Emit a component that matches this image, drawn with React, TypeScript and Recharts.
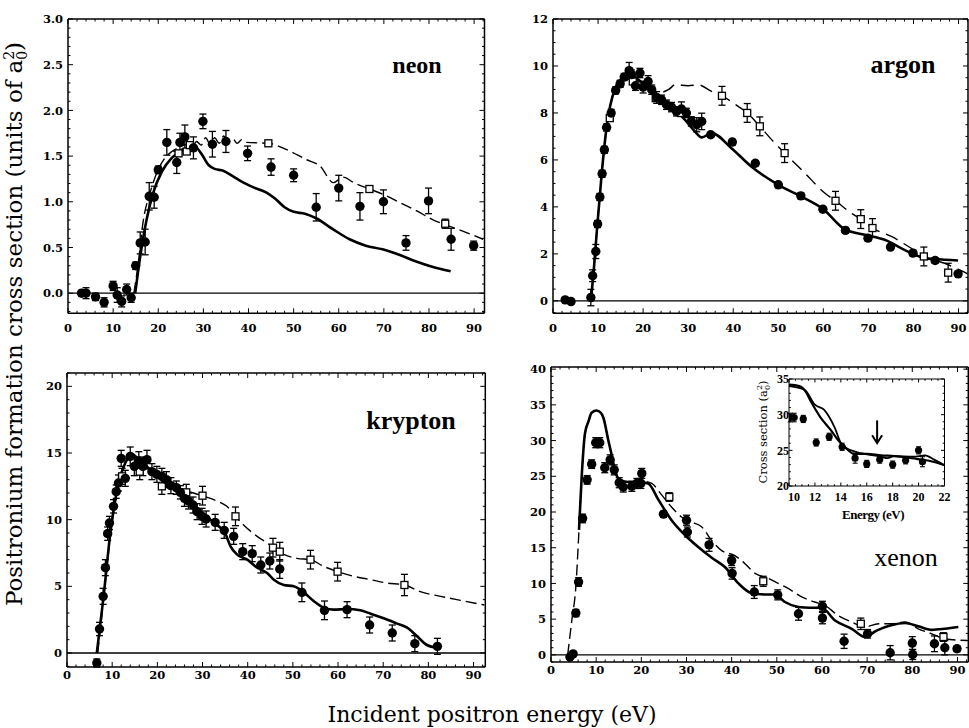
import React from 'react';
import { ComposedChart, Line, Scatter, XAxis, YAxis, ErrorBar, ReferenceLine } from 'recharts';

// ---------- DATA ----------
// [energy, value, error]
const neonCircles = [[3,0,0.03],[4,0,0.06],[6.1,-0.04,0.04],[8,-0.1,0.05],[10,0.08,0.05],[10.9,-0.02,0.08],[11.9,-0.09,0.06],[13,0.04,0.06],[14,-0.05,0.05],[15,0.3,0.04],[16,0.55,0.12],[17.1,0.56,0.14],[18,1.06,0.15],[19.1,1.05,0.12],[20,1.35,0.04],[21.9,1.65,0.14],[24.1,1.43,0.12],[24.8,1.65,0.1],[25.9,1.71,0.13],[27.8,1.59,0.12],[29.9,1.88,0.08],[32,1.63,0.14],[35,1.66,0.12],[39.8,1.53,0.08],[45,1.38,0.09],[50,1.29,0.07],[55,0.94,0.15],[60,1.15,0.14],[64.7,0.95,0.15],[69.9,1.0,0.13],[74.9,0.55,0.08],[79.9,1.01,0.14],[84.9,0.59,0.12],[89.9,0.52,0.05]];
const neonSquares = [[24.5,1.53,0.03],[26.3,1.55,0.03],[27,1.62,0.03],[44.4,1.64,0.03],[66.8,1.14,0.03],[83.6,0.76,0.05]];
const neonSolid = [[14.9,0],[16,0.4],[17.4,0.8],[18.9,1.1],[20.8,1.33],[23,1.48],[25.6,1.57],[28.2,1.6],[29.5,1.53],[31.2,1.4],[32.5,1.36],[34.4,1.34],[36.5,1.28],[38.5,1.22],[41,1.16],[44,1.1],[46,1.03],[48,0.94],[50,0.89],[52.5,0.87],[55,0.82],[58.7,0.7],[62.4,0.59],[66,0.52],[69.7,0.48],[73.4,0.42],[77,0.35],[80.7,0.29],[84.8,0.24]];
const neonDashed = [[14.6,0],[15.5,0.3],[16.7,0.8],[18.2,1.1],[19.7,1.32],[21.5,1.48],[23,1.55],[24.8,1.6],[26.5,1.63],[27.5,1.6],[28.5,1.66],[29.5,1.62],[30.5,1.7],[31.5,1.63],[32.5,1.7],[33.5,1.64],[34.5,1.72],[35.5,1.66],[36.5,1.69],[37.5,1.64],[38.5,1.68],[39.6,1.65],[44.4,1.64],[48.5,1.57],[52.9,1.46],[55.9,1.39],[58.8,1.21],[61,1.27],[63.3,1.21],[66.8,1.14],[69.9,1.08],[73.6,0.99],[77.3,0.9],[81,0.8],[83.6,0.75],[86.9,0.69],[92,0.59]];

const argonCircles = [[2.7,0.04,0.05],[4,-0.03,0.05],[8.4,0.14,0.35],[8.8,1.07,0.25],[9.5,2.1,0.3],[9.9,3.27,0.15],[10.4,4.42,0.15],[10.9,5.41,0.15],[11.4,6.43,0.15],[11.9,7.38,0.15],[12.9,8.0,0.15],[13.9,8.96,0.15],[14.9,9.24,0.15],[15.8,9.53,0.15],[16.9,9.8,0.35],[17.4,9.63,0.2],[18.3,9.16,0.2],[19.3,9.7,0.2],[20,9.1,0.25],[21.1,9.34,0.25],[21.9,8.99,0.2],[23,8.66,0.25],[24.1,8.56,0.2],[25.2,8.35,0.2],[26.3,8.25,0.2],[27.4,8.07,0.2],[28.5,8.17,0.3],[29.6,8.0,0.2],[30.7,7.64,0.2],[31.9,7.5,0.3],[33,7.64,0.35],[35,7.07,0.1],[39.8,6.76,0.12],[44.9,5.86,0.1],[50,4.94,0.1],[55,4.47,0.12],[59.9,3.9,0.1],[64.9,3.0,0.12],[69.9,2.67,0.12],[74.9,2.29,0.1],[79.9,2.03,0.12],[84.8,1.72,0.12],[89.9,1.15,0.08]];
const argonSquares = [[12.6,7.78,0.1],[17.7,9.34,0.1],[22.8,8.63,0.1],[28.4,8.0,0.15],[37.5,8.73,0.4],[43.1,8.0,0.4],[45.9,7.43,0.4],[51.4,6.29,0.4],[62.7,4.26,0.4],[68.3,3.48,0.4],[70.9,3.1,0.4],[82.3,1.89,0.4],[87.7,1.2,0.4]];
const argonSolid = [[8.4,0],[9.0,1.2],[9.7,2.9],[10.8,5.4],[11.9,7.4],[13.7,9.0],[16,9.6],[17.1,9.84],[18.2,9.55],[20.4,9.2],[23.4,8.7],[26.3,8.28],[29.3,7.71],[31.5,7.21],[33,6.96],[35.2,7.14],[39.6,6.5],[44,5.72],[50,4.94],[55.1,4.44],[60,3.9],[64.7,3.05],[69.2,2.81],[73.6,2.6],[78,2.17],[82.5,1.82],[84.7,1.78],[89.9,1.72]];
const argonDashed = [[8.3,0],[9.0,1.3],[9.7,2.9],[10.8,5.4],[11.9,7.4],[13.7,9.0],[16,9.6],[17.1,9.8],[18.5,9.5],[19.7,9.2],[21.5,9.0],[23.4,8.85],[25.6,8.99],[27.4,9.23],[28.6,9.18],[30,9.16],[32.2,9.2],[35.2,8.92],[37.5,8.73],[41.1,8.28],[43.1,8.0],[45.9,7.43],[49.2,6.72],[51.4,6.29],[55.9,5.44],[60.3,4.59],[62.7,4.26],[66.2,3.73],[68.3,3.48],[70.9,3.1],[75.1,2.74],[79.5,2.24],[82.3,1.89],[86.9,1.6],[92,1.15]];

const kryptonCircles = [[6.6,-0.75,0.3],[7.2,1.8,0.5],[8.0,4.25,0.6],[8.5,6.4,0.6],[9.0,8.95,0.5],[9.4,9.75,0.5],[10.3,11.0,0.5],[10.9,12.1,0.5],[11.4,12.75,0.6],[12,14.6,0.6],[12.9,13.1,0.6],[14.0,14.75,0.7],[14.9,14.0,0.7],[15.9,14.4,0.7],[16.8,14.0,0.7],[17.7,14.5,0.7],[18.8,13.6,0.6],[19.9,13.4,0.6],[21,13.25,0.6],[22,13.0,0.6],[23,12.55,0.6],[24.2,12.4,0.5],[25.1,12.05,0.5],[26,11.6,0.6],[26.9,11.4,0.6],[27.9,11.1,0.6],[28.8,10.6,0.6],[29.9,10.25,0.6],[30.8,10.05,0.6],[32.8,9.8,0.6],[34.8,9.2,0.6],[36.9,8.75,0.6],[38.9,7.6,0.6],[41,7.45,0.6],[42.9,6.6,0.6],[44.9,6.9,0.6],[47.1,6.3,0.7],[52,4.55,0.7],[57,3.2,0.7],[62,3.25,0.6],[67,2.1,0.6],[72,1.5,0.6],[77,0.7,0.6],[82,0.5,0.6]];
const kryptonSquares = [[12.2,13.25,0.6],[16.1,13.6,0.6],[21.0,12.5,0.6],[26.4,12.05,0.6],[30,11.8,0.7],[37.3,10.25,0.7],[45.6,7.9,0.7],[47.1,7.6,0.7],[53.9,7.0,0.7],[59.9,6.1,0.7],[74.7,5.1,0.8]];
const kryptonSolid = [[6.6,0],[8.1,4.25],[9.6,9.0],[11.1,12.25],[12.9,14.25],[14.4,14.9],[16.2,14.4],[18.5,13.75],[21.4,13.0],[24.4,12.25],[27.3,11.4],[30.3,10.4],[33.2,9.6],[35,9.0],[36.2,8.0],[37.6,7.4],[39.9,7.0],[42.1,6.4],[44.3,6.0],[45.8,5.5],[48,5.1],[50.2,5.0],[52.4,4.55],[54.6,3.9],[56.8,3.4],[59,3.25],[62,3.3],[64.9,3.2],[67.2,2.95],[70.1,2.6],[73.1,2.2],[75.3,1.9],[77.5,1.25],[79.7,0.6],[81.9,0.4]];
const kryptonDashed = [[6.8,0],[8.1,4.0],[9.6,8.8],[11.1,12.2],[12.9,14.3],[14.8,14.75],[17.7,14.0],[21.4,12.75],[25.1,12.25],[28,12.0],[30.3,11.75],[33.2,11.4],[35.4,11.0],[37.3,10.25],[39.1,9.6],[42.1,8.75],[44.3,8.25],[45.6,7.9],[48,7.4],[50.9,7.1],[53.9,7.0],[56.8,6.5],[59.9,6.1],[63.5,5.75],[67.2,5.5],[70.8,5.25],[74.7,5.1],[78.2,4.6],[82.7,4.25],[87.1,3.95],[92.4,3.6]];

const xenonCircles = [[4.2,-0.3,0.3],[4.9,0.14,0.3],[5.5,5.85,0.5],[6.1,10.2,0.6],[7.0,19.1,0.6],[8.0,24.5,0.6],[9.0,26.7,0.6],[9.9,29.7,0.7],[10.8,29.7,0.7],[11.9,26.2,0.7],[13.1,27.3,0.7],[14.0,25.9,0.7],[15.1,24.1,0.7],[16,23.5,0.7],[17.9,23.6,0.7],[19,24.0,0.7],[19.9,24.0,0.7],[20.1,25.4,0.7],[24.9,19.7,0.4],[30,18.85,0.7],[30.2,17.2,0.7],[35,15.4,0.9],[40,13.2,0.7],[40.1,11.4,0.8],[45,8.8,0.9],[50.2,8.4,0.7],[54.8,5.75,0.9],[60.1,6.8,0.7],[60.1,5.15,0.8],[64.9,1.9,1.0],[70.1,2.95,0.6],[75.1,0.3,1.0],[80,1.65,0.9],[80.1,0.05,0.7],[84.9,1.55,1.1],[87.2,1.0,1.0],[89.9,0.85,0.4]];
const xenonSquares = [[26.2,22.1,0.6],[47,10.3,0.7],[68.6,4.35,0.8],[86.9,2.5,0.6]];
const xenonSolid = [[6.2,17.5],[6.8,25],[7.5,30.9],[8.3,32.7],[9.0,33.9],[10.1,34.2],[11.0,33.9],[11.6,33.2],[12.7,30],[13.5,27.8],[14.2,25.7],[15.3,24.5],[17.1,24.2],[19.3,24.2],[21.5,24.0],[23.8,21.7],[26.7,18.85],[29.7,16.75],[32.6,15.1],[35.6,13.6],[38.5,12.3],[41.5,10.0],[44.4,8.65],[47.4,8.45],[49.6,8.45],[51.8,7.4],[54.8,6.7],[57.3,6.6],[59.9,6.6],[62.9,4.8],[66.6,3.65],[69.5,2.5],[72.1,3.4],[75.1,4.1],[78.4,4.45],[81.3,4.0],[84.3,3.5],[87.2,3.65],[90.2,3.9]];
const xenonDashed = [[3.7,0],[4.6,4.8],[5.5,9.5],[6.2,17.5],[6.8,25],[7.5,30.9],[8.3,32.7],[9.0,33.9],[10.1,34.2],[11.0,33.9],[11.6,33.2],[12.7,30],[13.5,27.8],[14.2,25.7],[15.3,24.5],[17.1,24.2],[19.3,24.2],[20.5,24.3],[22.3,24.0],[24.5,22.4],[26.7,20.7],[28.9,19.3],[31.1,18.6],[33.4,17.9],[35.6,16.0],[37.8,14.6],[40.7,13.9],[42.9,12.8],[45.2,11.4],[48.1,10.7],[50.3,10.0],[52.5,9.3],[55.5,8.1],[58.4,7.4],[60.7,6.9],[63.6,5.5],[66.6,4.6],[69.5,3.9],[72.5,4.35],[75.4,4.35],[78.4,4.6],[81.3,3.65],[84.3,2.95],[87.2,2.25],[92.2,2.0]];

const insetCircles = [[10.1,29.6,0.6],[10.4,29.6,0.6],[11.1,29.4,0.5],[12.1,26.1,0.5],[13.1,26.9,0.5],[14.1,25.5,0.5],[15.1,23.9,0.7],[16.0,23.1,0.5],[17.0,23.7,0.5],[18.0,23.0,0.5],[19.0,23.6,0.5],[20.0,25.0,0.5],[20.3,23.4,0.7]];
const insetLineA = [[10,34.2],[10.8,34.0],[11.3,33.2],[11.7,31.8],[12.4,29.7],[13.2,27.9],[13.9,26.2],[14.4,25.3],[15,24.5],[16,24.5],[17.1,24.3],[18.1,24.2],[19.1,24.0],[20.2,23.7],[20.9,23.5],[22,22.9]];
const insetLineB = [[10,34.0],[11.2,33.5],[12,31.4],[12.7,30.7],[13.5,28.3],[14.1,25.7],[14.8,25.0],[15.3,24.7],[17.1,24.1],[17.6,23.9],[18.1,24.2],[19.6,24.1],[20.5,24.3],[21.2,23.7],[22,22.9]];
const insetArrow = [16.8, 29.2, 26.0]; // energy, tail, tip

// tick labels
const energyLabels = [0, 10, 20, 30, 40, 50, 60, 70, 80, 90];
const neonYLabels = [0, 0.5, 1.0, 1.5, 2.0, 2.5, 3.0];
const argonYLabels = [0, 2, 4, 6, 8, 10, 12];
const kryptonYLabels = [0, 5, 10, 15, 20];
const xenonYLabels = [0, 5, 10, 15, 20, 25, 30, 35, 40];
const insetXLabels = [10, 12, 14, 16, 18, 20, 22];
const insetYLabels = [20, 25, 30, 35];

// ---------- HELPERS ----------
type Pt = { x: number; y: number; e: number };
const pts = (a: number[][]): Pt[] => a.map((r) => ({ x: r[0], y: r[1], e: r[2] ?? 0 }));
const range = (lo: number, hi: number, step: number) => {
  const out: number[] = [];
  const s = Math.ceil(lo / step - 1e-9);
  for (let i = s; i * step <= hi + 1e-9; i++) out.push(Math.round(i * step * 1000) / 1000);
  return out;
};
const isMajor = (v: number, majors: number[]) => majors.some((m) => Math.abs(m - v) < 1e-6);

const DotShape = (p: any) => <circle cx={p.cx} cy={p.cy} r={4.7} fill="#000" />;
const SmallDot = (p: any) => <circle cx={p.cx} cy={p.cy} r={3.6} fill="#000" />;
const SquareShape = (p: any) => (
  <rect x={p.cx - 3.5} y={p.cy - 3.5} width={7} height={7} fill="#fff" stroke="#000" strokeWidth={1.3} />
);
const ArrowHead = (p: any) => (
  <path d={`M${p.cx - 5},${p.cy - 8} L${p.cx},${p.cy} L${p.cx + 5},${p.cy - 8}`} fill="none" stroke="#000" strokeWidth={2} />
);

type PanelProps = {
  L: number; T: number; W: number; H: number;
  xd: [number, number]; yd: [number, number];
  xMaj: number[]; xMin: number; yMaj: number[]; yMin: number;
  xDy: number; fmtY: (v: number) => string;
  font: string; fontSize: number; fontWeight?: any;
  majLen: number; minLen: number; axisW: number; yw: number; yDx: number; firstXDx?: number;
  children: React.ReactNode;
};

function Panel(pr: PanelProps) {
  const YW = pr.yw, MT = 9, TH = 1, RW = 1, MR = 9, BH = 30;
  const xTicks = range(pr.xd[0], pr.xd[1], pr.xMin);
  const yTicks = range(pr.yd[0], pr.yd[1], pr.yMin);
  const txt = { fontFamily: pr.font, fontSize: pr.fontSize, fontWeight: pr.fontWeight ?? 'bold', fill: '#000' };
  const mk = (side: string, majors: number[], label: boolean, fmt?: (v: number) => string) => (p: any) => {
    const { x, y, payload } = p;
    const v = payload.value;
    const mj = isMajor(v, majors);
    const len = mj ? pr.majLen : pr.minLen;
    let x2 = x, y2 = y;
    if (side === 'bottom') y2 = y - len;
    if (side === 'top') y2 = y + len;
    if (side === 'left') x2 = x + len;
    if (side === 'right') x2 = x - len;
    const nudge = side === 'bottom' && Math.abs(v - majors[0]) < 1e-6 ? (pr.firstXDx ?? 0) : 0;
    return (
      <g>
        <line x1={x} y1={y} x2={x2} y2={y2} stroke="#000" strokeWidth={1} />
        {label && mj && side === 'bottom' && (
          <text x={x + nudge} y={y + pr.xDy} textAnchor="middle" {...txt}>{fmt ? fmt(v) : String(v)}</text>
        )}
        {label && mj && side === 'left' && (
          <text x={x - pr.yDx} y={y + pr.fontSize * 0.36} textAnchor="end" {...txt}>{fmt ? fmt(v) : String(v)}</text>
        )}
      </g>
    );
  };
  const axisLine = { stroke: '#000', strokeWidth: pr.axisW };
  return (
    <div style={{ position: 'absolute', left: pr.L - YW, top: pr.T - MT - TH }}>
      <ComposedChart width={pr.W + YW + RW + MR} height={pr.H + MT + TH + BH} margin={{ top: MT, right: MR, bottom: 0, left: 0 }}>
        <XAxis xAxisId={0} dataKey="x" type="number" domain={pr.xd} allowDataOverflow ticks={xTicks} interval={0}
          tickLine={false} tickSize={0} tickMargin={0} height={BH} axisLine={axisLine} tick={mk('bottom', pr.xMaj, true)} />
        <XAxis xAxisId="t" orientation="top" dataKey="x" type="number" domain={pr.xd} allowDataOverflow ticks={xTicks} interval={0}
          tickLine={false} tickSize={0} tickMargin={0} height={TH} axisLine={axisLine} tick={mk('top', pr.xMaj, false)} />
        <YAxis yAxisId={0} type="number" domain={pr.yd} allowDataOverflow ticks={yTicks} interval={0}
          tickLine={false} tickSize={0} tickMargin={0} width={YW} axisLine={axisLine} tick={mk('left', pr.yMaj, true, pr.fmtY)} />
        <YAxis yAxisId="r" orientation="right" type="number" domain={pr.yd} allowDataOverflow ticks={yTicks} interval={0}
          tickLine={false} tickSize={0} tickMargin={0} width={RW} axisLine={axisLine} tick={mk('right', pr.yMaj, false)} />
        {pr.children}
      </ComposedChart>
    </div>
  );
}

const series = (solid: number[][], dashed: number[][], circles: number[][], squares: number[][], dash: string) => [
  <ReferenceLine key="z" y={0} stroke="#000" strokeWidth={1.3} />,
  <Line key="d" data={pts(dashed)} dataKey="y" type="monotone" stroke="#000" strokeWidth={1.4} strokeDasharray={dash} dot={false} isAnimationActive={false} />,
  <Line key="s" data={pts(solid)} dataKey="y" type="monotone" stroke="#000" strokeWidth={2.6} dot={false} isAnimationActive={false} />,
  <Scatter key="q" data={pts(squares)} dataKey="y" shape={SquareShape} isAnimationActive={false}>
    <ErrorBar dataKey="e" direction="y" width={3.5} stroke="#000" strokeWidth={1.3} />
  </Scatter>,
  <Scatter key="c" data={pts(circles)} dataKey="y" shape={DotShape} isAnimationActive={false}>
    <ErrorBar dataKey="e" direction="y" width={3.5} stroke="#000" strokeWidth={1.3} />
  </Scatter>,
];

const MAIN = { font: '"DejaVu Serif", serif', fontSize: 11.5, majLen: 5, minLen: 2.5, axisW: 1.5, yw: 50, yDx: 5 };
const int = (v: number) => String(v);

export default function App() {
  const serif = '"Liberation Serif", "Times New Roman", serif';
  return (
    <div style={{ position: 'absolute', left: 0, top: 0, width: 969, height: 728, background: '#fff', overflow: 'hidden' }}>
      <Panel {...MAIN} L={68} T={19} W={416.5} H={294.3} xd={[0, 92.3]} yd={[-0.22, 3.0]} xMaj={energyLabels} xMin={2}
        yMaj={neonYLabels} yMin={0.1} xDy={19} fmtY={(v) => v.toFixed(1)}>
        {series(neonSolid, neonDashed, neonCircles, neonSquares, '11 5')}
      </Panel>
      <Panel {...MAIN} L={553} T={19} W={415} H={294.3} xd={[0, 92.1]} yd={[-0.53, 12]} xMaj={energyLabels} xMin={2}
        yMaj={argonYLabels} yMin={0.5} xDy={19} fmtY={int}>
        {series(argonSolid, argonDashed, argonCircles, argonSquares, '13 7')}
      </Panel>
      <Panel {...MAIN} L={66.7} T={373.3} W={418.3} H={294} xd={[0, 92.6]} yd={[-1.05, 21]} xMaj={energyLabels} xMin={2}
        yMaj={kryptonYLabels} yMin={1} xDy={12} fmtY={int}>
        {series(kryptonSolid, kryptonDashed, kryptonCircles, kryptonSquares, '11 5')}
      </Panel>
      <Panel {...MAIN} L={550.7} T={366.7} W={417.3} H={295} xd={[0, 92.4]} yd={[-1.0, 40.3]} xMaj={energyLabels} xMin={2}
        yMaj={xenonYLabels} yMin={1} xDy={12} fmtY={int}>
        {series(xenonSolid, xenonDashed, xenonCircles, xenonSquares, '11 5')}
      </Panel>
      <Panel font={serif} fontSize={12} majLen={3.5} minLen={1.8} axisW={1} yw={30} yDx={0} firstXDx={5}
        L={788.5} T={379} W={155.5} H={107} xd={[10, 22]} yd={[20, 35]} xMaj={insetXLabels} xMin={0.5}
        yMaj={insetYLabels} yMin={1} xDy={15} fmtY={int}>
        {[
          <Line key="a" data={pts(insetLineA)} dataKey="y" type="monotone" stroke="#000" strokeWidth={2.2} dot={false} isAnimationActive={false} />,
          <Line key="b" data={pts(insetLineB)} dataKey="y" type="monotone" stroke="#000" strokeWidth={1.8} dot={false} isAnimationActive={false} />,
          <ReferenceLine key="ar" segment={[{ x: insetArrow[0], y: insetArrow[1] }, { x: insetArrow[0], y: insetArrow[2] + 0.2 }]} stroke="#000" strokeWidth={2} />,
          <Scatter key="ah" data={[{ x: insetArrow[0], y: insetArrow[2], e: 0 }]} dataKey="y" shape={ArrowHead} isAnimationActive={false} />,
          <Scatter key="c" data={pts(insetCircles)} dataKey="y" shape={SmallDot} isAnimationActive={false}>
            <ErrorBar dataKey="e" direction="y" width={2.5} stroke="#000" strokeWidth={1.1} />
          </Scatter>,
        ]}
      </Panel>
      <svg width={969} height={728} style={{ position: 'absolute', left: 0, top: 0, pointerEvents: 'none' }}>
        <g fontFamily={serif} fontWeight="bold" fill="#000">
          <text x={417} y={73} textAnchor="middle" fontSize={24}>neon</text>
          <text x={903} y={73} textAnchor="middle" fontSize={26}>argon</text>
          <text x={411} y={429} textAnchor="middle" fontSize={26}>krypton</text>
          <text x={906} y={566} textAnchor="middle" fontSize={26} fontWeight="normal">xenon</text>
        </g>
        <text x={492} y={722} textAnchor="middle" fontFamily='"DejaVu Serif", serif' fontSize={22} fill="#000">
          Incident positron energy (eV)
        </text>
        <text x={22} y={324} transform="rotate(-90 22 324)" textAnchor="middle" fontFamily='"DejaVu Serif", serif' fontSize={23} fill="#000">
          Positronium formation cross section (units of a<tspan fontSize={14} dy={5}>0</tspan><tspan fontSize={14} dx={-9} dy={-13}>2</tspan><tspan dy={8}>)</tspan>
        </text>
        <text x={767} y={432} transform="rotate(-90 767 432)" textAnchor="middle" fontFamily='"DejaVu Serif", serif' fontSize={11.5} fill="#000">
          Cross section (a<tspan fontSize={8} dy={3}>0</tspan><tspan fontSize={8} dx={-5} dy={-8}>2</tspan><tspan dy={5}>)</tspan>
        </text>
        <text x={873} y={519} textAnchor="middle" fontFamily={serif} fontWeight="bold" fontSize={13} letterSpacing={-0.5} fill="#000">
          Energy (eV)
        </text>
      </svg>
    </div>
  );
}
